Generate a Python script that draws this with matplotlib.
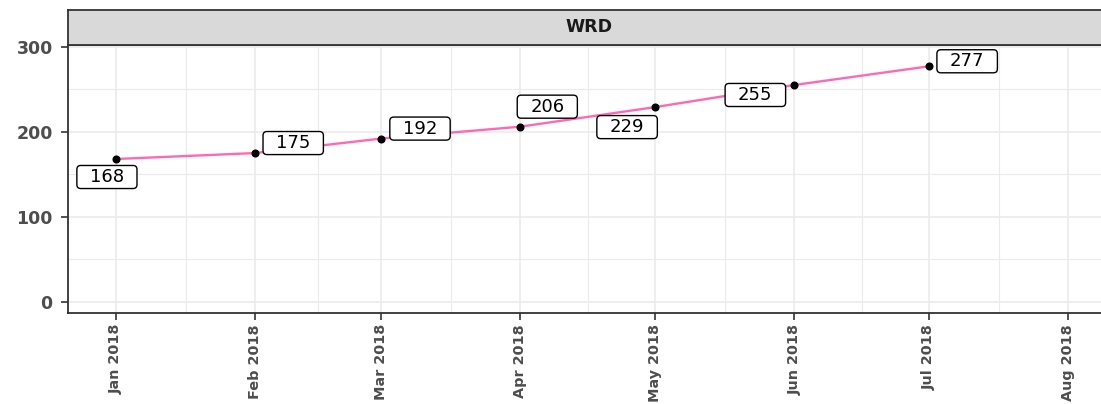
import matplotlib
matplotlib.use("Agg")
import matplotlib.pyplot as plt
from matplotlib.patches import BoxStyle
from datetime import datetime

# ---- data ----
facet = "WRD"
months = ["2018-01-01", "2018-02-01", "2018-03-01", "2018-04-01",
          "2018-05-01", "2018-06-01", "2018-07-01"]
values = [168, 175, 192, 206, 229, 255, 277]
tick_months = ["2018-01-01", "2018-02-01", "2018-03-01", "2018-04-01",
               "2018-05-01", "2018-06-01", "2018-07-01", "2018-08-01"]
y_ticks = [0, 100, 200, 300]
y_minor = [50, 150, 250]

# label offsets (pixels) - layout only
label_dx = [-9, 38, 39, 27, -28, -39, 38]
label_dy = [-18, 10, 10, 20, -20, -10, 5]

dates = [datetime.strptime(d, "%Y-%m-%d") for d in months]
tdates = [datetime.strptime(d, "%Y-%m-%d") for d in tick_months]

W, H = 1101, 404
fig = plt.figure(figsize=(W / 100, H / 100), dpi=100)
left = 68 / W
bottom = 1 - 313 / H
top = 1 - 45 / H
width = (1110 - 68) / W
ax = fig.add_axes([left, bottom, width, top - bottom])
strip = fig.add_axes([left, top, width, (45 - 10) / H])

grid_col = "#EBEBEB"
border_col = "#333333"

ax.set_xticks(tdates)
ax.set_xticklabels([d.strftime("%b %Y") for d in tdates], rotation=90,
                   fontsize=10.4, fontweight="bold", color="#4D4D4D",
                   family="DejaVu Sans")
minor_x = [tdates[i] + (tdates[i + 1] - tdates[i]) / 2 for i in range(len(tdates) - 1)]
ax.set_xticks(minor_x, minor=True)
ax.set_yticks(y_ticks)
ax.set_yticklabels([str(v) for v in y_ticks], fontsize=12.5, fontweight="bold",
                   color="#4D4D4D", family="DejaVu Sans")
ax.set_yticks(y_minor, minor=True)

ax.set_xlim(datetime(2017, 12, 21, 8), datetime(2018, 8, 10, 6))
ax.set_ylim(-13, 302)

ax.grid(which="major", color=grid_col, lw=1.2)
ax.grid(which="minor", color=grid_col, lw=0.8)
ax.set_axisbelow(True)
ax.tick_params(which="major", length=5, width=1.2, color=border_col)
ax.tick_params(axis="y", pad=6)
ax.tick_params(axis="x", pad=3)
ax.tick_params(which="minor", length=0)
for s in ax.spines.values():
    s.set_color(border_col)
    s.set_linewidth(1.3)

ax.plot(dates, values, color="#FF69B4", lw=1.7, zorder=3)
ax.plot(dates, values, "o", color="black", ms=4.8, zorder=4)


def wide_round(x0, y0, w, h, mutation_size):
    padx = 0.72 * mutation_size
    pady = 0.14 * mutation_size
    return BoxStyle.Round(pad=0, rounding_size=0.22)(
        x0 - padx, y0 - pady, w + 2 * padx, h + 2 * pady, mutation_size)


for d, v, dx, dy in zip(dates, values, label_dx, label_dy):
    ax.annotate(str(v), xy=(d, v), xytext=(dx, dy), textcoords="offset pixels",
                ha="center", va="center", fontsize=13, family="DejaVu Sans",
                color="black", zorder=5,
                bbox=dict(boxstyle=wide_round, fc="white", ec="black", lw=1.0))

strip.set_facecolor("#D9D9D9")
strip.set_xticks([])
strip.set_yticks([])
for s in strip.spines.values():
    s.set_color(border_col)
    s.set_linewidth(1.3)
strip.text(0.5, 0.5, facet, ha="center", va="center", fontsize=12.5,
           fontweight="bold", color="#1A1A1A", transform=strip.transAxes,
           family="DejaVu Sans")

fig.savefig("out.png", dpi=100)
